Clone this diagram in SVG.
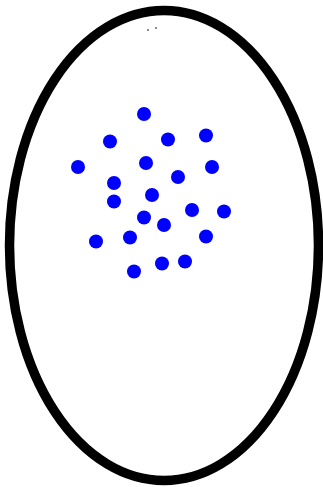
<svg xmlns="http://www.w3.org/2000/svg" width="323" height="487" viewBox="0 0 323 487">
<style>
.outline{fill:none;stroke:#000;stroke-width:9.5}
.dot{fill:#0000ff}
.speck{fill:#555}
</style>
<rect width="323" height="487" fill="#fff"/>
<g id="boundary"><ellipse class="outline" cx="164" cy="245.5" rx="154.5" ry="235"/></g>
<g id="specks">
<circle class="speck" cx="148" cy="30" r="0.9"/>
<circle class="speck" cx="156" cy="28" r="0.9"/>
</g>
<g id="points">
<circle class="dot" cx="144" cy="114" r="7"/>
<circle class="dot" cx="110" cy="141.5" r="7"/>
<circle class="dot" cx="168" cy="139.5" r="7"/>
<circle class="dot" cx="206" cy="135.5" r="7"/>
<circle class="dot" cx="78" cy="167" r="7"/>
<circle class="dot" cx="146" cy="163" r="7"/>
<circle class="dot" cx="212" cy="167" r="7"/>
<circle class="dot" cx="114" cy="183" r="7"/>
<circle class="dot" cx="178" cy="177" r="7"/>
<circle class="dot" cx="152" cy="195" r="7"/>
<circle class="dot" cx="114" cy="201.5" r="7"/>
<circle class="dot" cx="192" cy="210" r="7"/>
<circle class="dot" cx="224" cy="211.5" r="7"/>
<circle class="dot" cx="144" cy="217.5" r="7"/>
<circle class="dot" cx="164" cy="225" r="7"/>
<circle class="dot" cx="96" cy="241.5" r="7"/>
<circle class="dot" cx="130" cy="237.5" r="7"/>
<circle class="dot" cx="206" cy="236.5" r="7"/>
<circle class="dot" cx="134" cy="271.5" r="7"/>
<circle class="dot" cx="162" cy="263.5" r="7"/>
<circle class="dot" cx="185" cy="261.5" r="7"/>
</g>
</svg>
